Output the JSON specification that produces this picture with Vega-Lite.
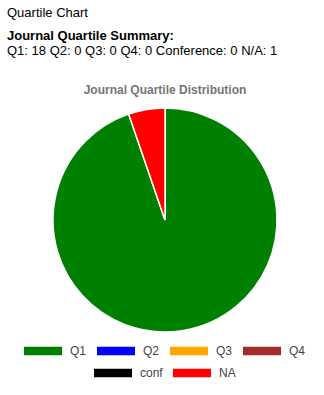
{
  "$schema": "https://vega.github.io/schema/vega-lite/v6.json",
  "padding": {"left": 7, "top": 7, "right": 1, "bottom": 0},
  "title": {"text": "Quartile Chart", "anchor": "start", "fontSize": 13, "fontWeight": "normal", "color": "#000000", "font": "Liberation Sans", "offset": 10},
  "datasets": {
    "quartiles": [
      {"quartile": "Q1", "count": 18},
      {"quartile": "Q2", "count": 0},
      {"quartile": "Q3", "count": 0},
      {"quartile": "Q4", "count": 0},
      {"quartile": "conf", "count": 0},
      {"quartile": "NA", "count": 1}
    ]
  },
  "vconcat": [
    {
      "title": {
        "text": "Journal Quartile Summary:",
        "subtitle": "Q1: 18 Q2: 0 Q3: 0 Q4: 0 Conference: 0 N/A: 1",
        "anchor": "start",
        "font": "Liberation Sans",
        "fontSize": 13,
        "fontWeight": "bold",
        "color": "#000000",
        "subtitleFont": "Liberation Sans",
        "subtitleFontSize": 13,
        "subtitleColor": "#000000",
        "subtitlePadding": 2,
        "offset": 26
      },
      "vconcat": [
        {
          "width": 316,
          "height": 224,
          "title": {"text": "Journal Quartile Distribution", "anchor": "middle", "font": "Liberation Sans", "fontSize": 12, "fontWeight": "bold", "color": "#757575", "offset": 8},
          "data": {"name": "quartiles"},
          "layer": [
            {
              "mark": {"type": "arc", "stroke": "#ffffff", "strokeWidth": 1.5},
              "encoding": {
                "theta": {"field": "count", "type": "quantitative", "stack": true},
                "color": {
                  "field": "quartile",
                  "type": "nominal",
                  "scale": {"domain": ["Q1", "Q2", "Q3", "Q4", "conf", "NA"], "range": ["#008000", "#0000ff", "#ffa500", "#a52a2a", "#000000", "#ff0000"]},
                  "legend": {"values": ["Q1", "Q2", "Q3", "Q4"], "title": null, "orient": "bottom", "direction": "horizontal", "columns": 4}
                },
                "order": {"field": "count", "type": "quantitative", "sort": "descending"}
              }
            },
            {
              "transform": [{"filter": "datum.quartile == 'conf' || datum.quartile == 'NA'"}],
              "mark": {"type": "arc", "radius": 0},
              "encoding": {
                "theta": {"field": "count", "type": "quantitative", "stack": true},
                "color": {
                  "field": "quartile",
                  "type": "nominal",
                  "scale": {"domain": ["conf", "NA"], "range": ["#000000", "#ff0000"]},
                  "legend": {"title": null, "orient": "bottom", "direction": "horizontal", "columns": 2}
                }
              }
            }
          ],
          "resolve": {"scale": {"color": "independent"}}
        }
      ]
    }
  ],
  "config": {
    "view": {"stroke": null},
    "font": "Liberation Sans",
    "concat": {"spacing": 0},
    "legend": {
      "labelFont": "Liberation Sans",
      "labelFontSize": 12,
      "labelColor": "#444444",
      "symbolType": "M-1,-0.23H1V0.23H-1Z",
      "symbolSize": 1444,
      "symbolStrokeWidth": 0,
      "symbolOpacity": 1,
      "labelOffset": 8,
      "columnPadding": 10,
      "rowPadding": 0,
      "clipHeight": 12,
      "offset": 13,
      "layout": {"bottom": {"anchor": "middle", "direction": "vertical", "center": true, "margin": 10}}
    }
  }
}
